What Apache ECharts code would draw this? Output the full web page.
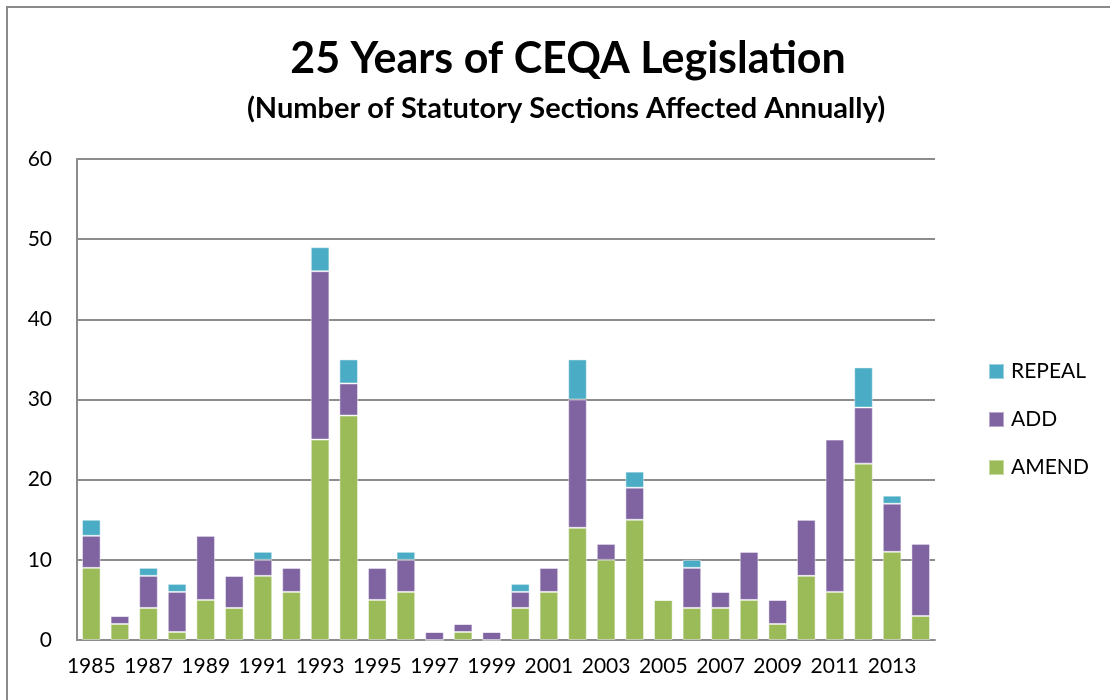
<!DOCTYPE html>
<html>
<head>
<meta charset="utf-8">
<script src="https://cdn.jsdelivr.net/npm/echarts@6/dist/echarts.min.js"></script>
<style>
html,body{margin:0;padding:0;background:#fff;}
#c{width:1110px;height:700px;}
</style>
</head>
<body>
<div id="c"></div>
<script>
const years = ['1985','1986','1987','1988','1989','1990','1991','1992','1993','1994','1995','1996','1997','1998','1999','2000','2001','2002','2003','2004','2005','2006','2007','2008','2009','2010','2011','2012','2013','2014'];
const amend  = [9,2,4,1,5,4,8,6,25,28,5,6,0,1,0,4,6,14,10,15,5,4,4,5,2,8,6,22,11,3];
const add    = [4,1,4,5,8,4,2,3,21,4,4,4,1,1,1,2,3,16,2,4,0,5,2,6,3,7,19,7,6,9];
const repeal = [2,0,1,1,0,0,1,0,3,3,0,1,0,0,0,1,0,5,0,2,0,1,0,0,0,0,0,5,1,0];
const titleText = '25 Years of CEQA Legislation';
const subtitleText = '(Number of Statutory Sections Affected Annually)';

const FONT = 'Lato';
const chart = echarts.init(document.getElementById('c'));
const barStyle = c => ({color: c, borderColor: 'rgba(255,255,255,0.45)', borderWidth: 1});
chart.setOption({
  animation: false,
  backgroundColor: '#fff',
  graphic: [{
    type: 'rect', shape: {x: 7, y: 7, width: 1300, height: 900},
    style: {fill: 'none', stroke: '#8a8a8a', lineWidth: 2}, silent: true
  }],
  title: [{
    text: titleText, left: 563, top: 33, textAlign: 'center',
    textStyle: {fontFamily: FONT, fontWeight: 'bold', fontSize: 43, color: '#000'}
  }, {
    text: subtitleText, left: 561, top: 89, textAlign: 'center',
    textStyle: {fontFamily: FONT, fontWeight: 'bold', fontSize: 29, color: '#000'}
  }],
  legend: {
    orient: 'vertical', left: 983, top: 356, itemGap: 27,
    itemWidth: 15, itemHeight: 15, icon: 'rect',
    data: ['REPEAL','ADD','AMEND'],
    textStyle: {fontFamily: FONT, fontSize: 21, color: '#000', padding: [0,0,0,2]}
  },
  grid: {left: 77, right: 175, top: 159, bottom: 60, containLabel: false},
  xAxis: {
    type: 'category', data: years,
    axisLine: {lineStyle: {color: '#8c8c8c', width: 2}},
    axisTick: {show: false},
    axisLabel: {interval: 1, fontFamily: FONT, fontSize: 21, color: '#000', margin: 16}
  },
  yAxis: {
    type: 'value', min: 0, max: 60, interval: 10,
    axisLine: {show: true, lineStyle: {color: '#8c8c8c', width: 2}},
    axisTick: {show: false},
    splitLine: {lineStyle: {color: '#8c8c8c', width: 2}},
    axisLabel: {fontFamily: FONT, fontSize: 21, color: '#000', margin: 25}
  },
  series: [
    {name: 'AMEND', type: 'bar', stack: 's', data: amend, barCategoryGap: '35%', itemStyle: barStyle('#9BBB59')},
    {name: 'ADD', type: 'bar', stack: 's', data: add, itemStyle: barStyle('#8064A2')},
    {name: 'REPEAL', type: 'bar', stack: 's', data: repeal, itemStyle: barStyle('#4BACC6')}
  ]
});
</script>
</body>
</html>
